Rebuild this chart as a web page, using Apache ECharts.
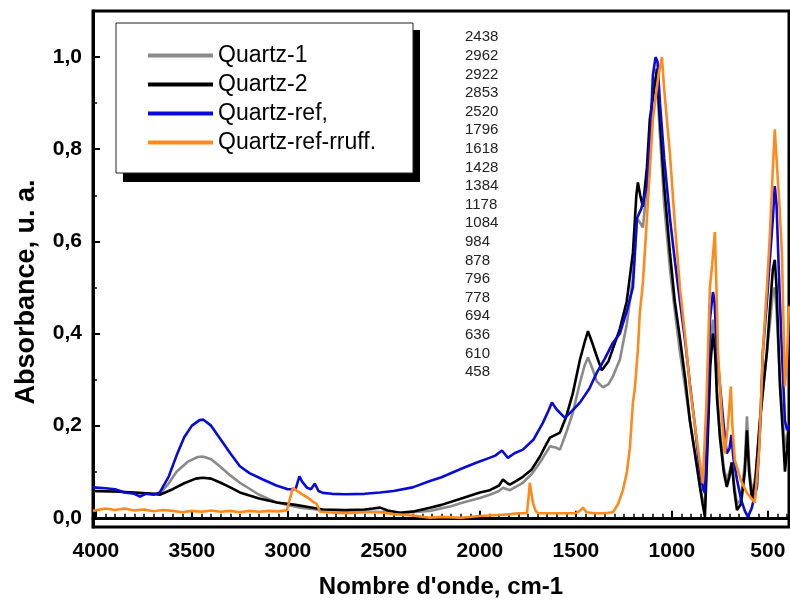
<!DOCTYPE html>
<html>
<head>
<meta charset="utf-8">
<title>Quartz IR</title>
<script src="https://cdn.jsdelivr.net/npm/echarts@6.0.0/dist/echarts.min.js"></script>
<style>
  html, body { margin: 0; padding: 0; background: #fff; }
  #chart { width: 790px; height: 606px; }
</style>
</head>
<body>
<div id="chart"></div>
<script>
// wavenumber (cm-1), absorbance
var quartz1 = [
  [4015,0.058],[3900,0.057],[3800,0.054],[3700,0.052],[3667,0.052],[3620,0.075],[3580,0.1],[3520,0.122],
  [3470,0.132],[3443,0.133],[3400,0.127],[3350,0.11],[3300,0.092],[3250,0.076],[3150,0.05],[3057,0.033],
  [2937,0.022],[2850,0.018],[2700,0.015],[2550,0.013],[2400,0.011],[2260,0.015],[2150,0.025],[2088,0.033],
  [2000,0.043],[1948,0.05],[1900,0.058],[1880,0.065],[1844,0.06],[1776,0.076],[1730,0.095],[1687,0.12],
  [1635,0.155],[1600,0.152],[1583,0.148],[1550,0.185],[1516,0.228],[1479,0.293],[1455,0.33],[1437,0.348],
  [1415,0.325],[1391,0.296],[1359,0.283],[1330,0.29],[1307,0.307],[1271,0.343],[1235,0.42],[1203,0.52],
  [1182,0.65],[1165,0.64],[1151,0.63],[1130,0.72],[1099,0.93],[1078,0.96],[1065,0.85],[1040,0.68],
  [1010,0.54],[985,0.45],[958,0.36],[930,0.28],[906,0.21],[880,0.14],[854,0.068],[835,0.03],[828,0.02],
  [815,0.18],[800,0.36],[786,0.43],[775,0.38],[765,0.28],[750,0.19],[730,0.11],[714,0.08],[700,0.1],
  [688,0.12],[675,0.07],[661,0.03],[640,0.04],[620,0.12],[609,0.22],[598,0.12],[583,0.05],[565,0.09],
  [542,0.2],[520,0.3],[505,0.36],[490,0.42],[474,0.49],[464,0.5],[455,0.45],[437,0.3],[420,0.2],
  [411,0.15],[400,0.18],[390,0.2]
];
var quartz2 = [
  [4015,0.058],[3900,0.057],[3800,0.055],[3700,0.052],[3667,0.05],[3600,0.062],[3540,0.075],[3480,0.085],
  [3443,0.087],[3400,0.085],[3350,0.076],[3300,0.066],[3250,0.055],[3150,0.042],[3057,0.033],[2960,0.028],
  [2901,0.024],[2818,0.018],[2700,0.017],[2600,0.018],[2557,0.02],[2520,0.022],[2480,0.016],[2417,0.011],
  [2340,0.014],[2260,0.022],[2200,0.028],[2088,0.043],[2000,0.055],[1948,0.06],[1900,0.07],[1880,0.083],
  [1860,0.076],[1844,0.072],[1810,0.08],[1776,0.089],[1730,0.105],[1687,0.133],[1660,0.155],[1635,0.174],
  [1583,0.185],[1550,0.22],[1516,0.27],[1479,0.343],[1455,0.38],[1437,0.405],[1415,0.38],[1391,0.35],
  [1365,0.32],[1330,0.34],[1271,0.41],[1235,0.47],[1203,0.575],[1185,0.7],[1177,0.728],[1165,0.7],
  [1151,0.675],[1130,0.76],[1115,0.865],[1089,0.94],[1078,0.975],[1065,0.88],[1040,0.72],[1010,0.575],
  [985,0.47],[958,0.39],[930,0.3],[906,0.21],[880,0.14],[854,0.068],[840,0.03],[828,0.002],[815,0.15],
  [800,0.33],[786,0.4],[775,0.36],[765,0.26],[750,0.175],[730,0.1],[714,0.067],[700,0.09],[688,0.12],
  [675,0.06],[661,0.017],[640,0.03],[620,0.1],[609,0.19],[598,0.1],[583,0.04],[565,0.08],[542,0.21],
  [520,0.3],[505,0.36],[490,0.45],[474,0.54],[464,0.56],[455,0.5],[437,0.285],[420,0.17],[411,0.1],
  [400,0.15],[390,0.2]
];
var quartzRef = [
  [4015,0.066],[3950,0.064],[3900,0.062],[3850,0.055],[3800,0.052],[3770,0.046],[3740,0.052],[3700,0.05],
  [3667,0.055],[3620,0.09],[3580,0.135],[3540,0.175],[3500,0.2],[3460,0.212],[3440,0.213],[3400,0.2],
  [3350,0.17],[3300,0.14],[3250,0.112],[3200,0.097],[3130,0.083],[3060,0.07],[3000,0.062],[2960,0.062],
  [2940,0.09],[2925,0.078],[2900,0.065],[2880,0.062],[2860,0.074],[2840,0.058],[2818,0.054],[2770,0.052],
  [2700,0.051],[2600,0.052],[2520,0.055],[2450,0.058],[2350,0.066],[2260,0.08],[2200,0.088],[2100,0.106],
  [2016,0.12],[1950,0.13],[1920,0.135],[1885,0.146],[1854,0.13],[1820,0.14],[1776,0.148],[1720,0.17],
  [1672,0.206],[1640,0.235],[1625,0.25],[1600,0.235],[1557,0.217],[1520,0.232],[1479,0.25],[1430,0.28],
  [1391,0.315],[1350,0.345],[1307,0.38],[1271,0.4],[1234,0.45],[1203,0.5],[1182,0.65],[1160,0.67],
  [1130,0.72],[1110,0.85],[1099,0.96],[1085,1.0],[1075,0.99],[1062,0.9],[1040,0.78],[1010,0.65],
  [985,0.56],[958,0.47],[930,0.38],[906,0.29],[880,0.2],[854,0.1],[835,0.06],[828,0.054],[815,0.2],
  [802,0.43],[786,0.49],[778,0.47],[765,0.36],[750,0.29],[730,0.2],[714,0.14],[700,0.15],[690,0.18],
  [680,0.13],[661,0.083],[640,0.04],[620,0.015],[604,0.002],[585,0.02],[557,0.067],[540,0.2],[526,0.36],
  [505,0.47],[490,0.56],[474,0.65],[464,0.72],[455,0.68],[440,0.5],[427,0.36],[411,0.21],[400,0.19],
  [390,0.2]
];
var quartzRruff = [
  [4015,0.015],[3950,0.02],[3900,0.017],[3850,0.02],[3800,0.016],[3750,0.018],[3700,0.014],[3650,0.017],
  [3600,0.015],[3550,0.012],[3500,0.015],[3450,0.013],[3400,0.016],[3350,0.013],[3300,0.015],[3250,0.012],
  [3200,0.015],[3150,0.013],[3100,0.015],[3050,0.014],[3005,0.016],[2990,0.04],[2974,0.065],[2950,0.058],
  [2922,0.05],[2900,0.045],[2870,0.035],[2850,0.03],[2833,0.013],[2800,0.012],[2700,0.01],[2600,0.012],
  [2520,0.012],[2450,0.008],[2350,0.005],[2260,0.0],[2200,0.002],[2100,0.0],[2000,0.004],[1900,0.006],
  [1840,0.008],[1800,0.01],[1755,0.01],[1745,0.05],[1740,0.076],[1730,0.05],[1724,0.033],[1710,0.015],
  [1698,0.01],[1600,0.01],[1500,0.01],[1480,0.015],[1463,0.022],[1445,0.012],[1400,0.01],[1350,0.01],
  [1307,0.012],[1280,0.03],[1255,0.06],[1234,0.1],[1219,0.15],[1203,0.25],[1193,0.28],[1177,0.365],
  [1167,0.445],[1151,0.51],[1130,0.65],[1099,0.865],[1070,0.96],[1052,1.0],[1040,0.93],[1010,0.79],
  [985,0.64],[958,0.5],[930,0.39],[906,0.285],[880,0.2],[854,0.12],[839,0.075],[820,0.25],[802,0.5],
  [790,0.55],[776,0.62],[768,0.5],[760,0.36],[740,0.22],[724,0.14],[708,0.2],[693,0.285],[685,0.2],
  [672,0.125],[640,0.08],[609,0.054],[568,0.033],[545,0.15],[526,0.36],[505,0.5],[490,0.61],[475,0.75],
  [464,0.843],[455,0.78],[440,0.68],[427,0.575],[411,0.285],[400,0.35],[390,0.46]
];

var seriesNames = ['Quartz-1', 'Quartz-2', 'Quartz-ref,', 'Quartz-ref-rruff.'];
var seriesColors = ['#8a8a8a', '#000000', '#0a0ad8', '#ff8a1c'];
var peakLabels = ['2438','2962','2922','2853','2520','1796','1618','1428','1384','1178','1084',
                  '984','878','796','778','694','636','610','458'];
var xTicks = [4000, 3500, 3000, 2500, 2000, 1500, 1000, 500];
var yTicks = [0, 0.2, 0.4, 0.6, 0.8, 1.0];

var xMinor = [];
for (var w = 400; w <= 4000; w += 50) xMinor.push(w);
var yMinor = [];
for (var v = 0; v <= 10; v++) yMinor.push(v / 10);

var font = 'Liberation Sans, Arial, sans-serif';
var chart = echarts.init(document.getElementById('chart'), null, { renderer: 'canvas' });

var allData = [quartz1, quartz2, quartzRef, quartzRruff];

chart.setOption({
  animation: false,
  backgroundColor: '#fff',
  grid: {
    left: 93, top: 11, right: 1, bottom: 79,
    show: true, borderColor: '#000', borderWidth: 3
  },
  legend: {
    orient: 'vertical',
    left: 143, top: 39,
    itemWidth: 65, itemHeight: 4, itemGap: 6,
    icon: 'rect',
    selectedMode: false,
    z: 20,
    textStyle: { fontFamily: font, fontSize: 23, color: '#000' },
    data: seriesNames
  },
  graphic: [
    { type: 'rect', z: 10, shape: { x: 123, y: 30, width: 297, height: 152 }, style: { fill: '#000' } },
    { type: 'rect', z: 11, shape: { x: 116, y: 23, width: 297, height: 150 }, style: { fill: '#fff', stroke: '#222', lineWidth: 1 } },
    {
      type: 'text', z: 12, left: 465, top: 28,
      style: { text: peakLabels.join('\n'), fontFamily: font, fontSize: 15, lineHeight: 18.6, fill: '#222' }
    },
    {
      // y axis title
      type: 'text', z: 12, x: 27, y: 292, rotation: Math.PI / 2,
      style: {
        text: 'Absorbance, u. a.', fontFamily: font, fontSize: 27, fontWeight: 'bold', fill: '#000',
        textAlign: 'center', textVerticalAlign: 'middle'
      }
    }
  ],
  xAxis: [{
    type: 'value', inverse: true, min: 390, max: 4015,
    name: "Nombre d'onde, cm-1", nameLocation: 'middle', nameGap: 48,
    nameTextStyle: { fontFamily: font, fontSize: 24, fontWeight: 'bold', color: '#000' },
    axisLine: { lineStyle: { color: '#000', width: 3 } },
    axisTick: { inside: true, length: 7, customValues: xTicks, lineStyle: { color: '#000', width: 2 } },
    axisLabel: {
      customValues: xTicks, margin: 14, fontFamily: font, fontSize: 21, fontWeight: 'bold', color: '#000',
      formatter: function (val) { return String(val); }
    },
    splitLine: { show: false }
  }, {
    type: 'value', inverse: true, min: 390, max: 4015, position: 'bottom', offset: 0,
    axisLine: { show: false },
    axisTick: { inside: true, length: 4, customValues: xMinor, lineStyle: { color: '#000', width: 1.5 } },
    axisLabel: { show: false },
    splitLine: { show: false }
  }],
  yAxis: [{
    type: 'value', min: -0.02, max: 1.1,
    axisLine: { lineStyle: { color: '#000', width: 3 } },
    axisTick: { inside: true, length: 7, customValues: yTicks, lineStyle: { color: '#000', width: 2 } },
    axisLabel: {
      customValues: yTicks, margin: 11, fontFamily: font, fontSize: 21, fontWeight: 'bold', color: '#000',
      formatter: function (val) { return val.toFixed(1).replace('.', ','); }
    },
    splitLine: { show: false }
  }, {
    type: 'value', min: -0.02, max: 1.1, position: 'left', offset: 0,
    axisLine: { show: false },
    axisTick: { inside: true, length: 4, customValues: yMinor, lineStyle: { color: '#000', width: 1.5 } },
    axisLabel: { show: false },
    splitLine: { show: false }
  }],
  series: allData.map(function (d, i) {
    return {
      name: seriesNames[i],
      type: 'line',
      xAxisIndex: 0, yAxisIndex: 0,
      data: d,
      showSymbol: false,
      color: seriesColors[i],
      lineStyle: { color: seriesColors[i], width: 2.6 },
      z: 2 + i
    };
  })
});
</script>
</body>
</html>
